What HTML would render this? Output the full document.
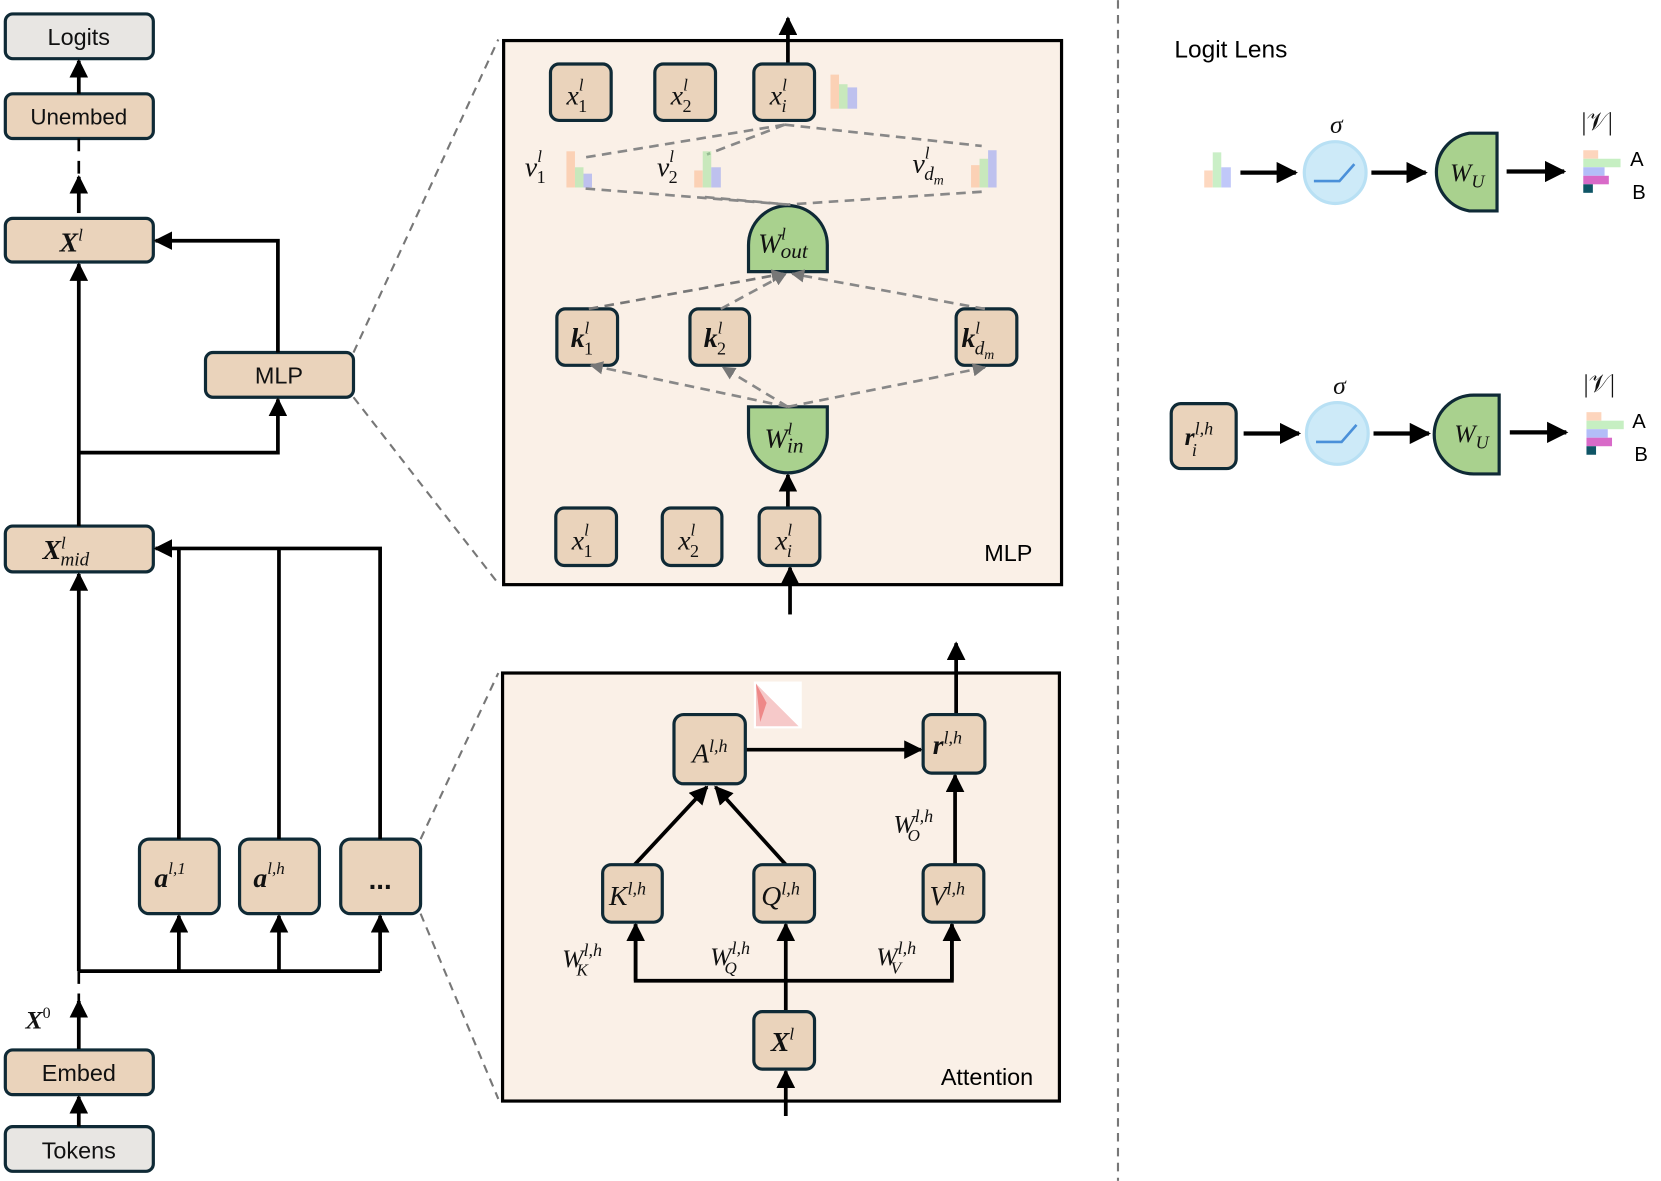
<!DOCTYPE html>
<html><head><meta charset="utf-8"><style>
html,body{margin:0;padding:0;background:#fff;}
svg{display:block;}
.m{font-family:"Liberation Serif",serif;font-style:italic;}
.s{font-family:"Liberation Sans",sans-serif;}
</style></head><body>
<svg width="1661" height="1181" viewBox="0 0 1560 1109" xmlns="http://www.w3.org/2000/svg">
<defs>
<marker id="a" viewBox="0 0 10 10" refX="9" refY="5" markerWidth="5" markerHeight="5" orient="auto"><path d="M0,0L10,5L0,10z" fill="#000"/></marker>
<marker id="g" viewBox="0 0 10 10" refX="9" refY="5" markerWidth="5" markerHeight="5" orient="auto"><path d="M0,0L10,5L0,10z" fill="#777"/></marker>
</defs>
<g stroke="#0f2a36" stroke-width="3">
<rect x="5" y="13" width="139" height="42" rx="7" fill="#e8e6e3"/>
<rect x="5" y="88" width="139" height="42" rx="7" fill="#ead3bb"/>
<rect x="5" y="205" width="139" height="41" rx="7" fill="#ead3bb"/>
<rect x="193" y="331" width="139" height="42" rx="7" fill="#ead3bb"/>
<rect x="5" y="494" width="139" height="43" rx="7" fill="#ead3bb"/>
<rect x="131" y="788" width="75" height="70" rx="9" fill="#ead3bb"/>
<rect x="225" y="788" width="75" height="70" rx="9" fill="#ead3bb"/>
<rect x="320" y="788" width="75" height="70" rx="9" fill="#ead3bb"/>
<rect x="5" y="986" width="139" height="42" rx="7" fill="#ead3bb"/>
<rect x="5" y="1058" width="139" height="42" rx="7" fill="#e8e6e3"/>
</g>
<g font-size="22" class="s" text-anchor="middle" fill="#111">
<text x="74" y="42">Logits</text><text x="74" y="117" font-size="21">Unembed</text>
<text x="262" y="360">MLP</text><text x="74" y="1015">Embed</text><text x="74" y="1088">Tokens</text>
</g>
<g class="m" font-weight="bold" fill="#111" font-size="26">
<text x="56" y="236">X<tspan font-size="16" font-weight="normal" dy="-10">l</tspan></text>
<text x="40" y="525">X<tspan font-size="16" font-weight="normal" dy="-10">l</tspan><tspan font-size="18" font-weight="normal" dx="-5" dy="16">mid</tspan></text>
<text x="145" y="833">a<tspan font-size="16" font-weight="normal" dy="-12">l,1</tspan></text>
<text x="238" y="833">a<tspan font-size="16" font-weight="normal" dy="-12">l,h</tspan></text>
<text x="357" y="835" text-anchor="middle" class="s" font-style="normal">...</text>
<text x="24" y="966" font-size="24">X<tspan font-size="15" font-weight="normal" dy="-10" font-style="normal">0</tspan></text>
</g>
<g stroke="#000" stroke-width="3.5" fill="none">
<line x1="74" y1="88" x2="74" y2="57" marker-end="url(#a)"/>
<line x1="74" y1="130" x2="74" y2="165" stroke-dasharray="12,9" stroke-width="2.5"/>
<line x1="74" y1="200" x2="74" y2="166" marker-end="url(#a)"/>
<line x1="74" y1="494" x2="74" y2="248" marker-end="url(#a)"/>
<line x1="74" y1="912" x2="74" y2="539" marker-end="url(#a)"/>
<polyline points="74,425 261,425 261,375" marker-end="url(#a)"/>
<polyline points="261,331 261,226 146,226" marker-end="url(#a)"/>
<polyline points="74,912 357,912"/>
<line x1="168" y1="912" x2="168" y2="860" marker-end="url(#a)"/>
<line x1="262" y1="912" x2="262" y2="860" marker-end="url(#a)"/>
<line x1="357" y1="912" x2="357" y2="860" marker-end="url(#a)"/>
<line x1="168" y1="788" x2="168" y2="515"/><line x1="262" y1="788" x2="262" y2="515"/>
<polyline points="357,788 357,515 146,515" marker-end="url(#a)"/>
<line x1="74" y1="912" x2="74" y2="940" stroke-dasharray="12,9" stroke-width="2.5"/>
<line x1="74" y1="985" x2="74" y2="940" marker-end="url(#a)"/>
<line x1="74" y1="1058" x2="74" y2="1030" marker-end="url(#a)"/>
</g>
<g stroke="#777" stroke-width="2" stroke-dasharray="8,6">
<line x1="332" y1="331" x2="468" y2="37"/><line x1="332" y1="373" x2="468" y2="548"/>
<line x1="395" y1="788" x2="468" y2="632"/><line x1="395" y1="858" x2="468" y2="1032"/>
<line x1="1050" y1="0" x2="1050" y2="1109"/>
</g>
<!-- MLP panel -->
<rect x="473" y="38" width="524" height="511" fill="#faf0e7" stroke="#000" stroke-width="3"/>
<g stroke="#000" stroke-width="3.5"><line x1="740" y1="60" x2="740" y2="17" marker-end="url(#a)"/>
<line x1="742" y1="577" x2="742" y2="533" marker-end="url(#a)"/>
<line x1="740" y1="477" x2="740" y2="446" marker-end="url(#a)"/></g>
<g stroke="#0f2a36" stroke-width="3" fill="#ead3bb">
<rect x="517" y="60" width="57" height="53" rx="8"/><rect x="615" y="60" width="57" height="53" rx="8"/><rect x="708" y="60" width="57" height="53" rx="8"/>
<rect x="523" y="290" width="57" height="53" rx="8"/><rect x="648" y="290" width="56" height="53" rx="8"/><rect x="898" y="290" width="57" height="53" rx="8"/>
<rect x="522" y="477" width="57" height="54" rx="8"/><rect x="622" y="477" width="56" height="54" rx="8"/><rect x="713" y="477" width="57" height="54" rx="8"/>
<path d="M703,255 L703,230 A37,37 0 0 1 777,230 L777,255 Z" fill="#a9d18e"/>
<path d="M703,382 L703,407 A37,37 0 0 0 777,407 L777,382 Z" fill="#a9d18e"/>
</g>
<g stroke="#888" stroke-width="2.5" stroke-dasharray="9,6" fill="none">
<line x1="737" y1="117" x2="548" y2="148"/><line x1="737" y1="117" x2="664" y2="145"/><line x1="737" y1="117" x2="922" y2="137"/>
<line x1="550" y1="177" x2="740" y2="192"/><line x1="662" y1="185" x2="740" y2="192"/><line x1="922" y1="180" x2="740" y2="192"/>
<line x1="553" y1="290" x2="736" y2="257" stroke="#777" marker-end="url(#g)"/>
<line x1="677" y1="290" x2="738" y2="257" marker-end="url(#g)"/>
<line x1="925" y1="290" x2="744" y2="257" marker-end="url(#g)"/>
<line x1="740" y1="382" x2="555" y2="343" marker-end="url(#g)"/>
<line x1="740" y1="382" x2="679" y2="345" marker-end="url(#g)"/>
<line x1="740" y1="382" x2="925" y2="345" marker-end="url(#g)"/>
</g>
<g opacity="0.55">
<rect x="780" y="70" width="8" height="32" fill="#fdb98e"/><rect x="788" y="79" width="8" height="23" fill="#a0e39a"/><rect x="796" y="82" width="9" height="20" fill="#8e9cf5"/>
<rect x="532" y="142" width="8" height="34" fill="#fdb98e"/><rect x="540" y="157" width="8" height="19" fill="#a0e39a"/><rect x="548" y="163" width="8" height="13" fill="#8e9cf5"/>
<rect x="652" y="160" width="8" height="16" fill="#fdb98e"/><rect x="660" y="142" width="8" height="34" fill="#a0e39a"/><rect x="668" y="157" width="9" height="19" fill="#8e9cf5"/>
<rect x="912" y="155" width="8" height="21" fill="#fdb98e"/><rect x="920" y="149" width="8" height="27" fill="#a0e39a"/><rect x="928" y="141" width="8" height="35" fill="#8e9cf5"/>
</g>
<g class="m" fill="#111" font-size="26">
<text x="532" y="98">x<tspan font-size="16" dy="-13">l</tspan><tspan font-size="17" dx="-5" dy="20" font-style="normal">1</tspan></text>
<text x="630" y="98">x<tspan font-size="16" dy="-13">l</tspan><tspan font-size="17" dx="-5" dy="20" font-style="normal">2</tspan></text>
<text x="723" y="98">x<tspan font-size="16" dy="-13">l</tspan><tspan font-size="17" dx="-5" dy="20">i</tspan></text>
<text x="537" y="516">x<tspan font-size="16" dy="-13">l</tspan><tspan font-size="17" dx="-5" dy="20" font-style="normal">1</tspan></text>
<text x="637" y="516">x<tspan font-size="16" dy="-13">l</tspan><tspan font-size="17" dx="-5" dy="20" font-style="normal">2</tspan></text>
<text x="728" y="516">x<tspan font-size="16" dy="-13">l</tspan><tspan font-size="17" dx="-5" dy="20">i</tspan></text>
<text x="493" y="165">v<tspan font-size="16" dy="-13">l</tspan><tspan font-size="17" dx="-5" dy="20" font-style="normal">1</tspan></text>
<text x="617" y="165">v<tspan font-size="16" dy="-13">l</tspan><tspan font-size="17" dx="-5" dy="20" font-style="normal">2</tspan></text>
<text x="857" y="162">v<tspan font-size="16" dy="-13">l</tspan><tspan font-size="18" dx="-5" dy="20">d<tspan font-size="13" dy="4">m</tspan></tspan></text>
<text x="712" y="237">W<tspan font-size="16" dy="-12">l</tspan><tspan font-size="20" dx="-5" dy="17">out</tspan></text>
<text x="718" y="420">W<tspan font-size="16" dy="-12">l</tspan><tspan font-size="20" dx="-5" dy="17">in</tspan></text>
<g font-weight="bold"><text x="536" y="326">k<tspan font-size="16" font-weight="normal" dy="-13">l</tspan><tspan font-size="17" font-weight="normal" dx="-5" dy="20" font-style="normal">1</tspan></text>
<text x="661" y="326">k<tspan font-size="16" font-weight="normal" dy="-13">l</tspan><tspan font-size="17" font-weight="normal" dx="-5" dy="20" font-style="normal">2</tspan></text>
<text x="903" y="326">k<tspan font-size="16" font-weight="normal" dy="-13">l</tspan><tspan font-size="18" font-weight="normal" dx="-5" dy="20">d<tspan font-size="13" dy="4">m</tspan></tspan></text></g>
</g>
<text x="947" y="527" class="s" font-size="22" text-anchor="middle">MLP</text>
<!-- Attention panel -->
<rect x="472" y="632" width="523" height="402" fill="#faf0e7" stroke="#000" stroke-width="3"/>
<rect x="708" y="640" width="45" height="44" fill="#fff"/>
<path d="M710,642 L750,682 L710,682Z" fill="#f6c9c9"/><path d="M710,642 L720,660 L714,678Z" fill="#e88"/>
<g stroke="#000" stroke-width="3.5" fill="none">
<line x1="898" y1="671" x2="898" y2="604" marker-end="url(#a)"/>
<line x1="700" y1="704" x2="865" y2="704" marker-end="url(#a)"/>
<line x1="596" y1="812" x2="664" y2="739" marker-end="url(#a)"/>
<line x1="738" y1="812" x2="672" y2="739" marker-end="url(#a)"/>
<line x1="897" y1="812" x2="897" y2="728" marker-end="url(#a)"/>
<line x1="738" y1="1048" x2="738" y2="1006" marker-end="url(#a)"/>
<polyline points="597,868 597,921 894,921 894,868"/>
<line x1="597" y1="921" x2="597" y2="868" marker-end="url(#a)"/>
<line x1="894" y1="921" x2="894" y2="868" marker-end="url(#a)"/>
<line x1="738" y1="950" x2="738" y2="868" marker-end="url(#a)"/>
</g>
<g stroke="#0f2a36" stroke-width="3" fill="#ead3bb">
<rect x="633" y="671" width="67" height="65" rx="9"/><rect x="867" y="671" width="58" height="55" rx="8"/>
<rect x="566" y="812" width="56" height="54" rx="8"/><rect x="708" y="812" width="57" height="54" rx="8"/><rect x="867" y="812" width="57" height="54" rx="8"/>
<rect x="708" y="950" width="57" height="54" rx="8"/>
</g>
<g class="m" fill="#111" font-size="26">
<text x="650" y="716">A<tspan font-size="17" dy="-10">l,h</tspan></text>
<text x="876" y="708" font-weight="bold">r<tspan font-size="17" font-weight="normal" dy="-10">l,h</tspan></text>
<text x="572" y="850">K<tspan font-size="17" dy="-10">l,h</tspan></text>
<text x="715" y="850">Q<tspan font-size="17" dy="-10">l,h</tspan></text>
<text x="873" y="850">V<tspan font-size="17" dy="-10">l,h</tspan></text>
<text x="724" y="987" font-weight="bold">X<tspan font-size="16" font-weight="normal" dy="-11">l</tspan></text>
<text x="528" y="908" font-size="24">W<tspan font-size="17" dy="-10">l,h</tspan><tspan font-size="16" dx="-24" dy="18">K</tspan></text>
<text x="667" y="906" font-size="24">W<tspan font-size="17" dy="-10">l,h</tspan><tspan font-size="16" dx="-24" dy="18">Q</tspan></text>
<text x="823" y="906" font-size="24">W<tspan font-size="17" dy="-10">l,h</tspan><tspan font-size="16" dx="-24" dy="18">V</tspan></text>
<text x="839" y="782" font-size="24">W<tspan font-size="17" dy="-10">l,h</tspan><tspan font-size="16" dx="-24" dy="18">O</tspan></text>
</g>
<text x="927" y="1019" class="s" font-size="22" text-anchor="middle">Attention</text>
<!-- Logit lens -->
<text x="1103" y="54" class="s" font-size="23">Logit Lens</text>
<g opacity="0.55">
<rect x="1131" y="160" width="8" height="16" fill="#fdb98e"/><rect x="1139" y="143" width="8" height="33" fill="#a0e39a"/><rect x="1147" y="157" width="9" height="19" fill="#8e9cf5"/>
</g>
<g id="row">
<circle cx="1254" cy="162" r="29" fill="#cdeaf8" stroke="#b8e0f4" stroke-width="3"/>
<polyline points="1234,170 1258,170 1272,154" stroke="#4a90d9" stroke-width="2.5" fill="none"/>
</g>
<circle cx="1256" cy="407" r="29" fill="#cdeaf8" stroke="#b8e0f4" stroke-width="3"/>
<polyline points="1236,415 1260,415 1274,399" stroke="#4a90d9" stroke-width="2.5" fill="none"/>
<g stroke="#0f2a36" stroke-width="3" fill="#a9d18e">
<path d="M1406,125 L1380,125 A37,37 0 0 0 1380,198 L1406,198 Z"/>
<path d="M1408,371 L1384,371 A37,37 0 0 0 1384,445 L1408,445 Z"/>
<rect x="1100" y="379" width="61" height="61" rx="9" fill="#ead3bb"/>
</g>
<g stroke="#000" stroke-width="4">
<line x1="1165" y1="162" x2="1217" y2="162" marker-end="url(#a)"/><line x1="1288" y1="162" x2="1339" y2="162" marker-end="url(#a)"/><line x1="1415" y1="161" x2="1469" y2="161" marker-end="url(#a)"/>
<line x1="1168" y1="407" x2="1220" y2="407" marker-end="url(#a)"/><line x1="1290" y1="407" x2="1342" y2="407" marker-end="url(#a)"/><line x1="1418" y1="406" x2="1471" y2="406" marker-end="url(#a)"/>
</g>
<g>
<rect x="1487" y="141" width="14" height="8" fill="#fdd5bd"/><rect x="1487" y="149" width="35" height="8" fill="#c6efc2"/><rect x="1487" y="157" width="20" height="8" fill="#b3bdf8"/><rect x="1487" y="165" width="24" height="8" fill="#d86ac8"/><rect x="1487" y="173" width="9" height="8" fill="#0f5566"/>
<rect x="1490" y="387" width="14" height="8" fill="#fdd5bd"/><rect x="1490" y="395" width="35" height="8" fill="#c6efc2"/><rect x="1490" y="403" width="20" height="8" fill="#b3bdf8"/><rect x="1490" y="411" width="24" height="8" fill="#d86ac8"/><rect x="1490" y="419" width="9" height="8" fill="#0f5566"/>
</g>
<g class="s" font-size="19"><text x="1531" y="156">A</text><text x="1533" y="187">B</text><text x="1533" y="402">A</text><text x="1535" y="433">B</text></g>
<g class="m" font-size="24" fill="#111" text-anchor="middle">
<text x="1255" y="125">σ</text><text x="1258" y="370">σ</text>
<text x="1500" y="122" font-style="normal">|𝒱|</text><text x="1502" y="368" font-style="normal">|𝒱|</text>
<text x="1378" y="170" text-anchor="middle">W<tspan font-size="17" dy="6">U</tspan></text>
<text x="1382" y="415" text-anchor="middle">W<tspan font-size="17" dy="6">U</tspan></text>
<text x="1126" y="418" font-weight="bold">r<tspan font-size="17" font-weight="normal" dy="-10">l,h</tspan><tspan font-size="17" font-weight="normal" dx="-20" dy="20">i</tspan></text>
</g>
</svg>
</body></html>
